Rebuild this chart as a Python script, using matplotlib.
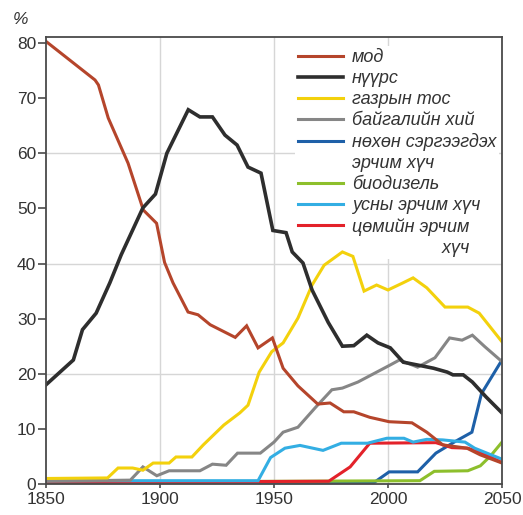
import matplotlib
matplotlib.use("Agg")
import matplotlib.pyplot as plt
from matplotlib.lines import Line2D

# share of world energy supply, %
wood_years = [1850, 1871.5, 1873, 1877.3, 1886, 1892.7, 1898.5, 1902, 1905.7, 1912.3, 1916.7, 1922,
              1933, 1938, 1943, 1949.3, 1954, 1960.5, 1969.2, 1974.6, 1980.6, 1985, 1992, 2000.5,
              2010.5, 2017, 2024, 2034.6, 2040.4, 2050]
wood_share = [80.3, 73.3, 72.4, 66.4, 58.2, 49.7, 47.3, 40.2, 36.5, 31.2, 30.7, 28.9,
              26.6, 28.7, 24.7, 26.5, 21.0, 17.8, 14.5, 14.7, 13.1, 13.1, 12.1, 11.3,
              11.1, 9.4, 7.1, 6.5, 5.3, 3.8]

coal_years = [1850, 1862, 1866, 1872, 1878, 1883, 1892.5, 1898, 1903, 1912.4, 1917.5, 1923,
              1928.5, 1933.8, 1938.6, 1944.3, 1949.5, 1955.3, 1958, 1962.7, 1966.7, 1973.8, 1980,
              1985, 1990.7, 1995.6, 2001, 2006.7, 2012.8, 2020, 2026, 2028.5, 2033, 2037, 2043, 2050]
coal_share = [18.0, 22.5, 28.0, 31.0, 36.5, 41.6, 50.1, 52.6, 60.0, 67.9, 66.6, 66.6,
              63.3, 61.5, 57.5, 56.4, 46.0, 45.6, 42.1, 40.1, 35.2, 29.3, 25.0,
              25.1, 27.0, 25.6, 24.7, 22.1, 21.6, 21.0, 20.3, 19.8, 19.8, 18.5, 15.8, 12.9]

oil_years = [1850, 1877, 1881.6, 1888, 1892.5, 1897, 1904, 1907, 1914, 1919, 1928, 1935, 1938.6,
             1943.5, 1949, 1954, 1960.5, 1966.7, 1972, 1980, 1984.6, 1989.5, 1995, 2000, 2006.6,
             2011, 2017, 2025, 2035, 2040, 2050]
oil_share = [1.0, 1.1, 2.9, 2.9, 2.5, 3.8, 3.8, 4.9, 4.9, 7.1, 10.7, 12.9, 14.3,
             20.3, 24.0, 25.6, 30.1, 36.1, 39.7, 42.1, 41.3, 35.0, 36.1, 35.2, 36.5,
             37.4, 35.6, 32.1, 32.1, 31.0, 25.8]

gas_years = [1850, 1887, 1892.5, 1898.6, 1904, 1917.5, 1923, 1929, 1934, 1944, 1950, 1954,
             1960.5, 1968, 1975.4, 1980, 1986.8, 2001, 2005, 2013, 2020.6, 2027, 2032.5, 2037,
             2042.5, 2050]
gas_share = [0.5, 0.7, 3.1, 1.5, 2.4, 2.4, 3.6, 3.4, 5.6, 5.6, 7.6, 9.4,
             10.3, 13.8, 17.1, 17.4, 18.5, 21.6, 22.5, 21.2, 22.9, 26.5, 26.1, 27.0,
             24.9, 22.2]

renew_years = [1850, 1994, 2000.5, 2013, 2021, 2029, 2036.8, 2041, 2050]
renew_share = [0.3, 0.3, 2.2, 2.2, 5.6, 7.6, 9.4, 16.4, 22.5]

bio_years = [1850, 2014, 2020.3, 2035, 2040.5, 2045, 2050]
bio_share = [0.3, 0.6, 2.3, 2.4, 3.3, 5.1, 7.6]

hydro_years = [1850, 1943, 1948.5, 1954.8, 1961.4, 1971.5, 1979.5, 1991, 1999.5, 2007, 2011,
               2017, 2024, 2033.8, 2038, 2050]
hydro_share = [0.6, 0.6, 4.8, 6.5, 7.0, 6.1, 7.4, 7.4, 8.3, 8.3, 7.6,
               8.1, 8.0, 7.6, 6.5, 4.5]

nuclear_years = [1850, 1974, 1983.4, 1987, 1992, 2021, 2028, 2035, 2041, 2050]
nuclear_share = [0.3, 0.5, 3.1, 4.9, 7.4, 7.5, 6.6, 6.5, 5.7, 3.9]

labels = ["мод", "нүүрс", "газрын тос", "байгалийн хий", "нөхөн сэргээгдэх",
          "биодизель", "усны эрчим хүч", "цөмийн эрчим"]
label_tails = {"нөхөн сэргээгдэх": "эрчим хүч", "цөмийн эрчим": "хүч"}

x_ticks = [1850, 1900, 1950, 2000, 2050]
y_ticks = [0, 10, 20, 30, 40, 50, 60, 70, 80]
y_grid = [20, 40, 60]

series = [
    (wood_years, wood_share, "#b5452b", 2.2, 2.30),
    (coal_years, coal_share, "#2e2e2e", 2.6, 2.35),
    (oil_years, oil_share, "#f3d10c", 2.2, 2.25),
    (gas_years, gas_share, "#868686", 2.2, 2.20),
    (renew_years, renew_share, "#1e60a8", 2.2, 2.00),
    (bio_years, bio_share, "#8dbf2c", 2.2, 2.05),
    (hydro_years, hydro_share, "#33aee3", 2.2, 2.15),
    (nuclear_years, nuclear_share, "#e3222a", 2.2, 2.10),
]

plt.rcParams['font.family'] = ['Liberation Sans', 'DejaVu Sans']
fig = plt.figure(figsize=(5.23, 5.15), dpi=100)
ax = fig.add_axes([46/523, 31/515, 456/523, 447/515])

lines = []
for (xs, ys, col, lw, z) in series:
    ln, = ax.plot(xs, ys, color=col, lw=lw, zorder=z, solid_joinstyle='miter')
    lines.append(ln)

ax.set_xlim(1850, 2050)
ax.set_ylim(0, 81.1)
ax.set_xticks(x_ticks)
ax.set_yticks(y_ticks)
for v in x_ticks[1:-1]:
    ax.axvline(v, color="#d6d6d6", lw=1, zorder=1)
for v in y_grid:
    ax.axhline(v, color="#d6d6d6", lw=1, zorder=1)

for s in ax.spines.values():
    s.set_color("#4a4a4a")
    s.set_linewidth(1.3)
ax.tick_params(axis="y", length=6, width=1.2, pad=1, colors="#4a4a4a",
               labelsize=12.5, labelcolor="#333333")
ax.tick_params(axis="x", length=3, width=1.2, pad=3, colors="#4a4a4a",
               labelsize=12.5, labelcolor="#333333")
fig.text(21/523, 1 - 19/515, "%", ha="center", va="center", fontsize=12.5,
         color="#333333", style="italic")

# legend: two-line labels are split into a handle row and a blank row
blank = Line2D([], [], color="none")
handles, texts = [], []
for ln, lab in zip(lines, labels):
    handles.append(ln)
    texts.append(lab)
    if lab in label_tails:
        handles.append(blank)
        texts.append(label_tails[lab])

leg = ax.legend(handles, texts, loc="upper left", bbox_to_anchor=(0.546, 0.979),
                prop={"family": "Liberation Sans", "style": "italic", "size": 13},
                handlelength=2.5, handletextpad=0.5, labelspacing=0.22,
                borderpad=0.15, borderaxespad=0, frameon=True, fancybox=False,
                framealpha=1, facecolor="white", edgecolor="none")
leg.set_zorder(1.5)  # hides the grid, stays under the data lines
for t in leg.get_texts():
    t.set_color("#333333")

# right-align the last tail line under "цөмийн эрчим"
fig.canvas.draw()
r = fig.canvas.get_renderer()
lt = leg.get_texts()
head, tail = lt[-2], lt[-1]
target = head.get_window_extent(r).width
word = tail.get_text()
n = 0
while tail.get_window_extent(r).width < target - 1 and n < 80:
    n += 1
    tail.set_text(" " * n + word)

fig.savefig("out.png", dpi=100)
